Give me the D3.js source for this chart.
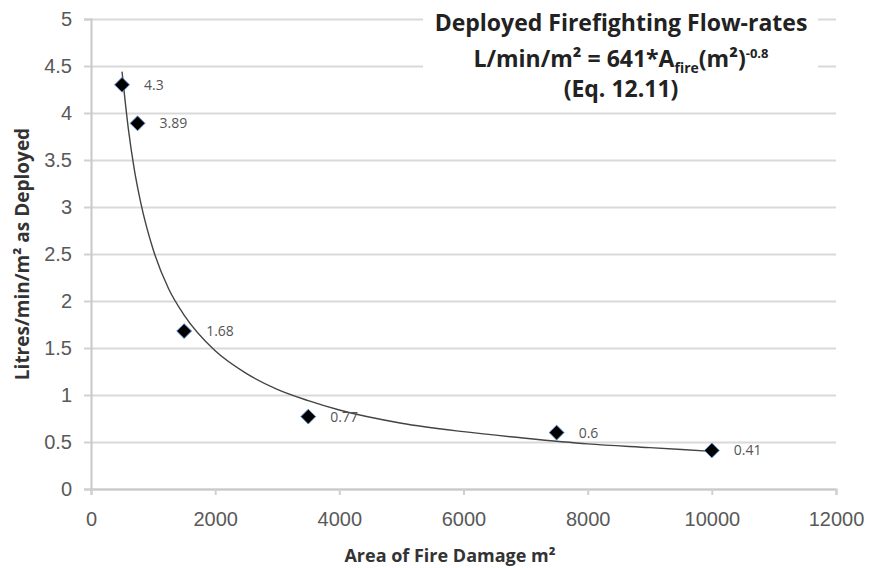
<!DOCTYPE html>
<html>
<head>
<meta charset="utf-8">
<script src="https://cdn.jsdelivr.net/npm/d3@7"></script>
<style>
  body { margin: 0; background: #fff; }
  svg { display: block; font-family: "Open Sans", "Liberation Sans", sans-serif; }
</style>
</head>
<body>
<svg width="871" height="568"></svg>
<script>
// data
var areas = [500, 750, 1500, 3500, 7500, 10000];
var flows = [4.3, 3.89, 1.68, 0.77, 0.6, 0.41];
var pointLabels = ['4.3', '3.89', '1.68', '0.77', '0.6', '0.41'];

// trend line, estimated along the drawn curve
var trendX = [500, 600, 700, 800, 1000, 1250, 1500, 2000, 2500, 3000, 3500, 4000, 5000, 6000, 7000, 8000, 9000, 10000];
var trendY = [4.44, 3.84, 3.39, 3.05, 2.55, 2.13, 1.85, 1.47, 1.23, 1.06, 0.94, 0.84, 0.70, 0.61, 0.54, 0.48, 0.44, 0.40];

var xTicks = [0, 2000, 4000, 6000, 8000, 10000, 12000];
var yTicks = [0, 0.5, 1, 1.5, 2, 2.5, 3, 3.5, 4, 4.5, 5];

var svg = d3.select('svg');

var xScale = d3.scaleLinear().domain([0, 12000]).range([91, 836]);
var yScale = d3.scaleLinear().domain([0, 5]).range([489, 19]);

// grid lines
svg.append('g')
  .attr('class', 'y grid')
  .attr('transform', 'translate(' + xScale(0) + ',0)')
  .call(d3.axisLeft(yScale).tickValues(yTicks).tickSize(-(xScale(12000) - xScale(0))).tickFormat(''))
  .call(function(g) {
    g.select('.domain').remove();
    g.selectAll('line').attr('stroke', '#d9d9d9').attr('stroke-width', 2);
  });

// y axis ticks + labels
var yAxis = svg.append('g')
  .attr('class', 'y axis')
  .attr('transform', 'translate(' + xScale(0) + ',0)')
  .call(d3.axisLeft(yScale).tickValues(yTicks).tickSize(7).tickPadding(12).tickFormat(d3.format('')));
yAxis.select('.domain').attr('stroke', '#c8c8c8').attr('stroke-width', 2);
yAxis.selectAll('line').attr('stroke', '#d0d0d0').attr('stroke-width', 2);
yAxis.selectAll('text').attr('fill', '#595959').style('font-size', '20px');

// x axis
var xAxis = svg.append('g')
  .attr('class', 'x axis')
  .attr('transform', 'translate(0,' + yScale(0) + ')')
  .call(d3.axisBottom(xScale).tickValues(xTicks).tickSize(6).tickPadding(17).tickFormat(d3.format('')));
xAxis.select('.domain').attr('stroke', '#c8c8c8').attr('stroke-width', 2);
xAxis.selectAll('line').attr('stroke', '#d0d0d0').attr('stroke-width', 2);
xAxis.selectAll('text').attr('fill', '#595959').style('font-size', '20px');

// title box hides grid behind it
svg.append('rect')
  .attr('x', 423).attr('y', 4)
  .attr('width', 395).attr('height', 98)
  .attr('fill', '#fff');

// trend line
var trend = trendX.map(function(x, i) { return [x, trendY[i]]; });
var line = d3.line()
  .x(function(d) { return xScale(d[0]); })
  .y(function(d) { return yScale(d[1]); })
  .curve(d3.curveMonotoneX);
svg.append('path')
  .attr('d', line(trend))
  .attr('fill', 'none')
  .attr('stroke', '#444')
  .attr('stroke-width', 1.4);

// points
var points = areas.map(function(a, i) { return {x: a, y: flows[i], label: pointLabels[i]}; });
var diamond = d3.symbol().type(d3.symbolDiamond2).size(140);

svg.selectAll('.pt')
  .data(points)
  .enter()
  .append('path')
  .attr('class', 'pt')
  .attr('d', diamond)
  .attr('transform', function(d) { return 'translate(' + xScale(d.x) + ',' + yScale(d.y) + ')'; })
  .attr('fill', '#000')
  .attr('stroke', '#5b8ac6')
  .attr('stroke-width', 1);

svg.selectAll('.pt-label')
  .data(points)
  .enter()
  .append('text')
  .attr('class', 'pt-label')
  .attr('x', function(d) { return xScale(d.x) + 22; })
  .attr('y', function(d) { return yScale(d.y) + 5; })
  .attr('fill', '#555')
  .style('font-size', '14px')
  .text(function(d) { return d.label; });

// title
var title = svg.append('text')
  .attr('text-anchor', 'middle')
  .attr('font-weight', 'bold')
  .attr('fill', '#222')
  .style('font-size', '23px');

title.append('tspan').attr('x', 621).attr('y', 31).text('Deployed Firefighting Flow-rates');
var l2 = title.append('tspan').attr('x', 621).attr('y', 67);
l2.append('tspan').text('L/min/m² = 641*A');
l2.append('tspan').attr('dy', 6).style('font-size', '14px').text('fire');
l2.append('tspan').attr('dy', -6).text('(m²)');
l2.append('tspan').attr('dy', -9).style('font-size', '13px').text('-0.8');
title.append('tspan').attr('x', 621).attr('y', 97).text('(Eq. 12.11)');

// axis titles
svg.append('text')
  .attr('x', 450).attr('y', 562)
  .attr('text-anchor', 'middle')
  .attr('font-weight', 'bold')
  .attr('fill', '#333')
  .style('font-size', '18px')
  .text('Area of Fire Damage m²');

svg.append('text')
  .attr('transform', 'translate(29,254) rotate(-90)')
  .attr('text-anchor', 'middle')
  .attr('font-weight', 'bold')
  .attr('fill', '#333')
  .style('font-size', '19px')
  .text('Litres/min/m² as Deployed');
</script>
</body>
</html>
